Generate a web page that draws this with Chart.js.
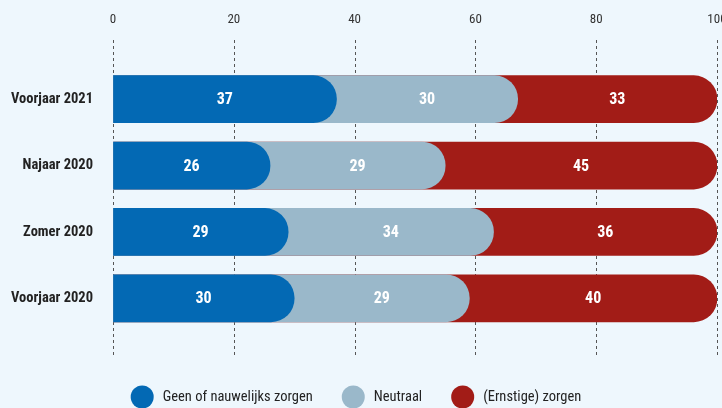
<!DOCTYPE html>
<html>
<head>
<meta charset="utf-8">
<script src="https://cdn.jsdelivr.net/npm/chart.js@4/dist/chart.umd.min.js"></script>
<style>
    html, body { margin: 0; padding: 0; background: #eef7fd; overflow: hidden; }
    #wrap { width: 722px; height: 408px; overflow: hidden; }
</style>
</head>
<body>
<div id="wrap"><canvas id="chart" width="740" height="408"></canvas></div>
<script>
// Chart data
const periods = ['Voorjaar 2021', 'Najaar 2020', 'Zomer 2020', 'Voorjaar 2020'];
const seriesNames = ['Geen of nauwelijks zorgen', 'Neutraal', '(Ernstige) zorgen'];
const geenZorgen = [37, 26, 29, 30];
const neutraal = [30, 29, 34, 29];
const ernstigeZorgen = [33, 45, 36, 40];
const xTicks = [0, 20, 40, 60, 80, 100];
const TOTAL = 100;

const colors = ['#0369b4', '#9ab8ca', '#a21c17'];
const FONT = "'Roboto Condensed', 'DejaVu Sans Condensed', sans-serif";

// Each segment is drawn as a bar from 0 to its cumulative end, so the rounded
// end of one segment sits over the next one (last segment runs to 100%)
const series = [geenZorgen, neutraal, ernstigeZorgen];
const segStart = series.map((s, k) => periods.map((p, i) => {
    let sum = 0;
    for (let j = 0; j < k; j++) sum += series[j][i];
    return sum;
}));
const segEnd = series.map((s, k) => periods.map((p, i) =>
    k === series.length - 1 ? TOTAL : segStart[k][i] + s[i]));

const datasets = series.map((s, k) => ({
    label: seriesNames[k],
    data: segEnd[k].map(end => [0, end]),
    backgroundColor: colors[k],
    borderWidth: 0,
    borderRadius: 24,
    borderSkipped: 'start',
    barThickness: 47,
    grouped: false
}));

// Dashed vertical gridlines, longer than the plot area
const gridPlugin = {
    id: 'dashedGrid',
    beforeDatasetsDraw(chart) {
        const ctx = chart.ctx;
        const xScale = chart.scales.x;
        ctx.save();
        ctx.strokeStyle = '#555';
        ctx.lineWidth = 1;
        ctx.setLineDash([3, 3]);
        xTicks.forEach(t => {
            const x = Math.round(xScale.getPixelForValue(t)) + 0.5;
            ctx.beginPath();
            ctx.moveTo(x, 40);
            ctx.lineTo(x, 358);
            ctx.stroke();
        });
        ctx.restore();
    }
};

// Value labels in the middle of the visible part of each segment
const labelPlugin = {
    id: 'segLabels',
    afterDatasetsDraw(chart) {
        const ctx = chart.ctx;
        const xScale = chart.scales.x;
        ctx.save();
        ctx.fillStyle = '#fff';
        ctx.font = 'bold 16px ' + FONT;
        ctx.textAlign = 'center';
        ctx.textBaseline = 'middle';
        series.forEach((s, k) => {
            const meta = chart.getDatasetMeta(k);
            s.forEach((v, i) => {
                const mid = (segStart[k][i] + segEnd[k][i]) / 2;
                ctx.fillText(String(v), xScale.getPixelForValue(mid), meta.data[i].y + 1);
            });
        });
        ctx.restore();
    }
};

// Legend with big round markers at the bottom
const legendPlugin = {
    id: 'bottomLegend',
    afterDraw(chart) {
        const ctx = chart.ctx;
        const r = 11.5, gap = 9, itemGap = 29, y = 397, center = 356;
        ctx.save();
        ctx.font = '14.5px ' + FONT;
        const widths = seriesNames.map(n => ctx.measureText(n).width);
        let total = 0;
        widths.forEach((w, k) => { total += 2 * r + gap + w + (k < widths.length - 1 ? itemGap : 0); });
        let x = center - total / 2;
        ctx.textBaseline = 'middle';
        seriesNames.forEach((n, k) => {
            ctx.fillStyle = colors[k];
            ctx.beginPath();
            ctx.arc(x + r, y, r, 0, Math.PI * 2);
            ctx.fill();
            x += 2 * r + gap;
            ctx.fillStyle = '#222';
            ctx.fillText(n, x, y);
            x += widths[k] + itemGap;
        });
        ctx.restore();
    }
};

new Chart(document.getElementById('chart'), {
    type: 'bar',
    data: { labels: periods, datasets: datasets },
    options: {
        indexAxis: 'y',
        responsive: false,
        animation: false,
        layout: { padding: { left: 0, right: 23, top: 0, bottom: 76.5 } },
        scales: {
            x: {
                position: 'top',
                min: 0,
                max: 100,
                afterBuildTicks(scale) { scale.ticks = xTicks.map(v => ({ value: v })); },
                afterFit(scale) { scale.height = 66; },
                // invisible tick marks push the labels up without widening the axis
                grid: { display: true, drawOnChartArea: false, drawTicks: true, tickLength: 38, color: 'rgba(0,0,0,0)' },
                border: { display: false },
                ticks: { padding: 0, color: '#333', font: { family: FONT, size: 13 } }
            },
            y: {
                afterFit(scale) { scale.width = 113; },
                grid: { display: false, drawTicks: false },
                border: { display: false },
                ticks: { padding: 20, color: '#222', font: { family: FONT, size: 14.5, weight: 'bold' } }
            }
        },
        plugins: {
            legend: { display: false },
            tooltip: { enabled: false }
        }
    },
    plugins: [gridPlugin, labelPlugin, legendPlugin]
});
</script>
</body>
</html>
